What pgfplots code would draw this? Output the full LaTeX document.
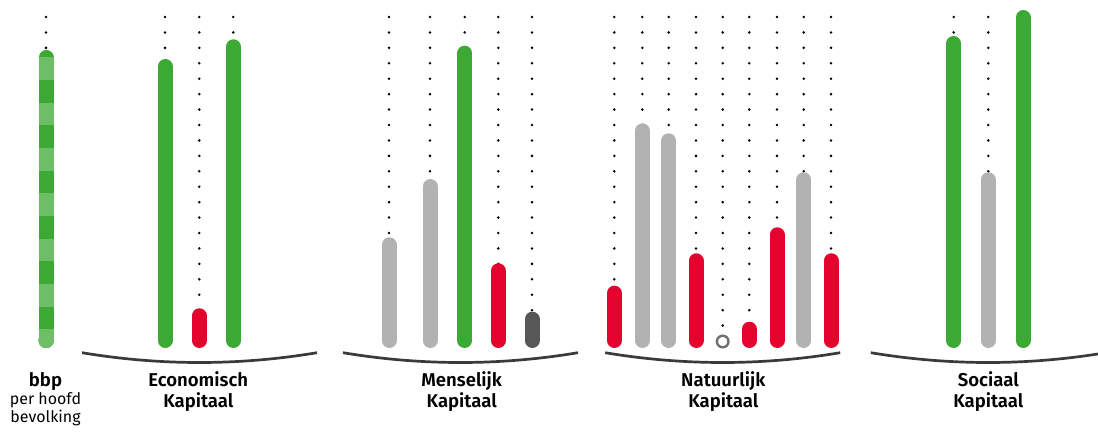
\documentclass[border=0pt]{standalone}
\usepackage{pgfplots}
\pgfplotsset{compat=1.18}
\usepackage{fontspec}
\setmainfont{Fira Sans}[BoldFont={Fira Sans SemiBold}]
\definecolor{cgreen}{HTML}{3DA935}
\definecolor{clgreen}{HTML}{6DBE66}
\definecolor{cred}{HTML}{E4032C}
\definecolor{cgray}{HTML}{B2B2B2}
\definecolor{cdgray}{HTML}{575757}
\definecolor{cring}{HTML}{707070}
\definecolor{carc}{HTML}{3A3A3A}
\tikzset{dotcol/.style={black, line width=2.8bp, line cap=round, dash pattern=on 0bp off 15.43bp}}
% value = height of the bar's upper cap centre above the baseline
\newcommand{\capbar}[3]{%
  \addplot[dotcol] coordinates {(#2,323.5) (#2,#3)};
  \addplot[#1, line width=15bp, line cap=round] coordinates {(#2,0) (#2,#3)};}
\newcommand{\soloBar}[3]{%
  \addplot[#1, line width=15bp, line cap=round] coordinates {(#2,0) (#2,#3)};}
\newcommand{\groupArc}[1]{%
  \draw[carc, line width=2.7bp] (axis cs:#1-117.5,-12.2) .. controls (axis cs:#1-39.17,-25.27) and (axis cs:#1+39.17,-25.27) .. (axis cs:#1+117.5,-12.2);}
\newcommand{\lab}[3]{\node[anchor=base, font=\fontsize{18.6}{18.6}\selectfont\bfseries] at (axis cs:#1,-46.2) {#2};
  \node[anchor=base, font=\fontsize{18.6}{18.6}\selectfont\bfseries] at (axis cs:#1,-66.8) {#3};}
\begin{document}
\begin{tikzpicture}
\begin{axis}[
  width=1098bp, height=432bp, scale only axis,
  xmin=0, xmax=1098, ymin=-91.5, ymax=340.5,
  hide axis, clip=true,
]
% bbp per hoofd (striped)
\addplot[dotcol] coordinates {(46,323.5) (46,283)};
\addplot[cgreen, line width=15bp, line cap=round] coordinates {(46,0) (46,283)};
\addplot[clgreen, line width=15bp, line cap=butt, dash pattern=on 22.67bp off 22.67bp] coordinates {(46,283.2) (46,0)};
\addplot[only marks, mark=*, mark size=7.5bp, clgreen, mark options={draw=none, fill=clgreen}] coordinates {(46,0)};
% Economisch Kapitaal
\capbar{cgreen}{165}{274}
\capbar{cred}{199.3}{24.7}
\capbar{cgreen}{233.3}{293.7}
% Menselijk Kapitaal
\capbar{cgray}{389}{95.7}
\capbar{cgray}{430}{154}
\capbar{cgreen}{464.7}{287.3}
\capbar{cred}{498.3}{69.7}
\capbar{cdgray}{532}{21.3}
% Natuurlijk Kapitaal
\capbar{cred}{614.3}{47.3}
\capbar{cgray}{642.3}{209.7}
\capbar{cgray}{668.7}{199.7}
\capbar{cred}{696}{79.7}
\addplot[dotcol] coordinates {(722.7,323.5) (722.7,0)};
\addplot[only marks, mark=*, mark size=5.8bp, mark options={draw=cring, fill=white, line width=2.4bp}] coordinates {(722.7,-1)};
\capbar{cred}{749.3}{11.3}
\capbar{cred}{777}{105.7}
\capbar{cgray}{803.7}{160.7}
\capbar{cred}{831}{79.7}
% Sociaal Kapitaal
\capbar{cgreen}{953.7}{297}
\capbar{cgray}{988.3}{160.7}
\soloBar{cgreen}{1023}{323}
% arcs
\groupArc{199.5}
\groupArc{460.5}
\groupArc{722.7}
\groupArc{988.3}
% labels
\node[anchor=base, font=\fontsize{18.6}{18.6}\selectfont\bfseries] at (axis cs:45.5,-46.2) {bbp};
\node[anchor=base, font=\fontsize{16}{16}\selectfont] at (axis cs:45.5,-64.5) {per hoofd};
\node[anchor=base, font=\fontsize{16}{16}\selectfont] at (axis cs:45.5,-82.2) {bevolking};
\lab{198.3}{Economisch}{Kapitaal}
\lab{461.7}{Menselijk}{Kapitaal}
\lab{723.3}{Natuurlijk}{Kapitaal}
\lab{988.3}{Sociaal}{Kapitaal}
\end{axis}
\pgfresetboundingbox
\path (current axis.south west) rectangle (current axis.north east);
\end{tikzpicture}
\end{document}
